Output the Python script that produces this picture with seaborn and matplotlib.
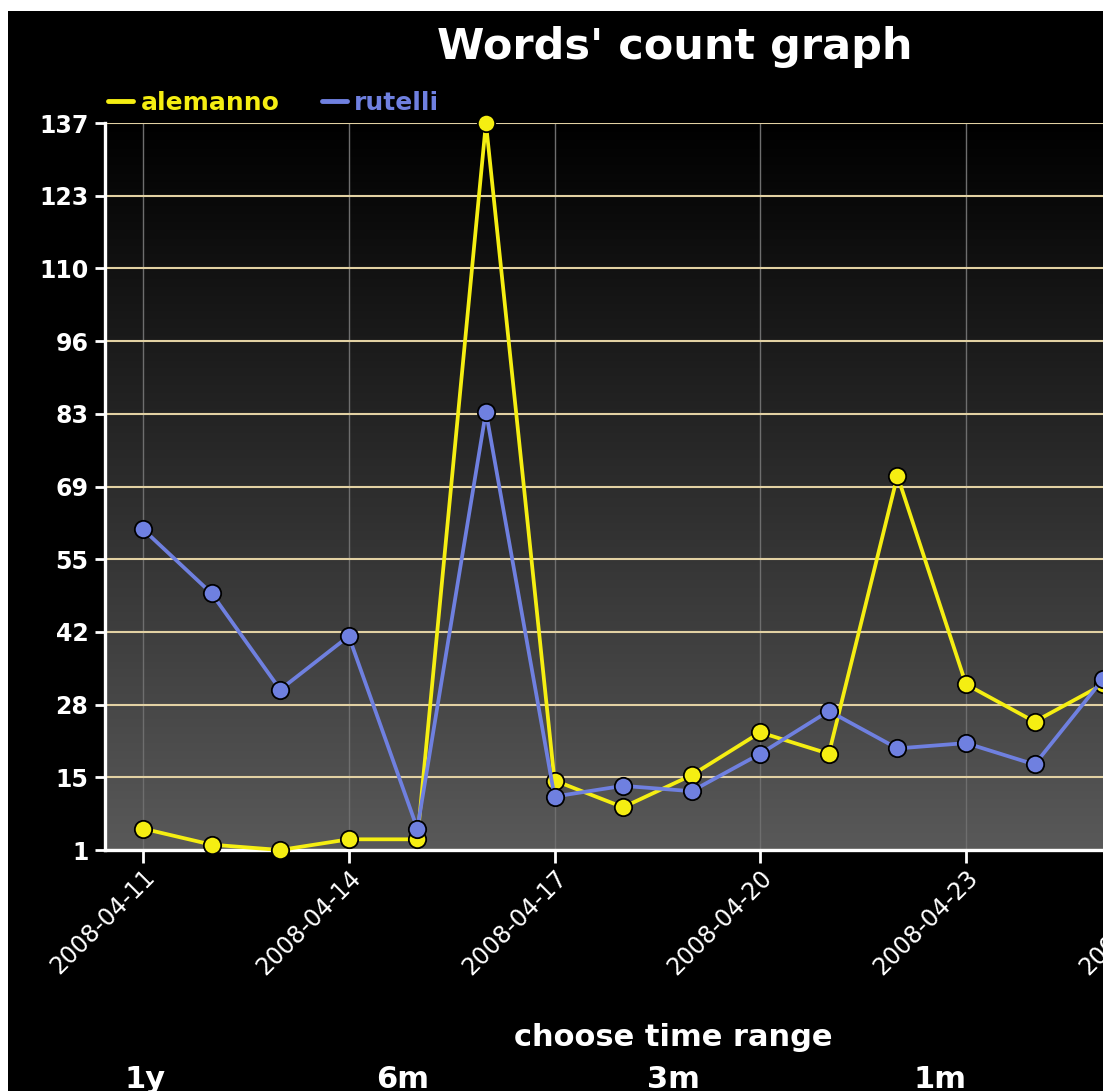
import numpy as np
import pandas as pd
import matplotlib
matplotlib.use('Agg')
import matplotlib.pyplot as plt
from matplotlib.lines import Line2D
from matplotlib.patches import Rectangle
from matplotlib.colors import LinearSegmentedColormap
import seaborn as sns

# data
dates = ['2008-04-11', '2008-04-12', '2008-04-13', '2008-04-14', '2008-04-15',
         '2008-04-16', '2008-04-17', '2008-04-18', '2008-04-19', '2008-04-20',
         '2008-04-21', '2008-04-22', '2008-04-23', '2008-04-24', '2008-04-25']
alemanno = [5, 2, 1, 3, 3, 137, 14, 9, 15, 23, 19, 71, 32, 25, 32]
rutelli = [61, 49, 31, 41, 5, 83, 11, 13, 12, 19, 27, 20, 21, 17, 33]
names = ['alemanno', 'rutelli']
y_labels = ['1', '15', '28', '42', '55', '69', '83', '96', '110', '123', '137']
x_tick_dates = ['2008-04-11', '2008-04-14', '2008-04-17', '2008-04-20', '2008-04-23', '2008-04-26']
range_labels = ['1y', '6m', '3m', '1m']

df = pd.DataFrame({
    'date': pd.to_datetime(dates + dates),
    'count': alemanno + rutelli,
    'name': [names[0]] * len(dates) + [names[1]] * len(dates),
})
palette = {'alemanno': '#f5ee12', 'rutelli': '#6f80e0'}

sns.set_style('dark')
plt.rcParams['font.family'] = ['DejaVu Sans']

W, H = 1103, 1091
fig = plt.figure(figsize=(W / 100, H / 100), dpi=100, facecolor='white')
fig.add_artist(Rectangle((8 / W, 0), 1, 1 - 11 / H, transform=fig.transFigure,
                         facecolor='black', edgecolor='none', zorder=-10))

ax = fig.add_axes([105 / W, 1 - 850 / H, 1075 / W, 727 / H])
ax.set_facecolor('black')

sns.lineplot(data=df, x='date', y='count', hue='name', hue_order=names, palette=palette,
             marker='o', markersize=12.5, markeredgecolor='black', markeredgewidth=1.3,
             linewidth=2.7, legend=False, ax=ax, clip_on=False, zorder=3)

# dark-to-grey background gradient
grad = np.linspace(0, 1, 256).reshape(-1, 1)
bg = LinearSegmentedColormap.from_list('bg', ['#595959', '#000000'])
ax.imshow(grad, extent=[0, 1, 0, 1], transform=ax.transAxes, cmap=bg,
          aspect='auto', origin='lower', zorder=0)

start = pd.Timestamp('2008-04-11')
ax.set_xlim(start - pd.Timedelta(hours=13.3), start + pd.Timedelta(hours=24 * 15.12))
ax.set_ylim(1, 137)

ax.set_yticks(np.linspace(1, 137, len(y_labels)))
ax.set_yticklabels(y_labels, color='white', fontsize=17, fontweight='bold')
ax.set_xticks(pd.to_datetime(x_tick_dates))
ax.set_xticklabels(x_tick_dates, color='white', fontsize=17, rotation=45,
                   ha='right', rotation_mode='anchor')
ax.tick_params(axis='y', left=True, length=7, width=2, color='white', pad=5)
ax.tick_params(axis='x', bottom=True, length=9, width=2, color='white', pad=2)

ax.grid(False)
ax.yaxis.grid(True, color='#e2d1a3', linewidth=1.5)
ax.xaxis.grid(True, color='#6e6e6e', linewidth=1)
ax.set_axisbelow(True)

for side in ['top', 'right']:
    ax.spines[side].set_visible(False)
for side in ['left', 'bottom']:
    ax.spines[side].set_color('white')
    ax.spines[side].set_linewidth(2.4)
ax.set_xlabel('')
ax.set_ylabel('')

handles = [Line2D([], [], color=palette[n], lw=3.5) for n in names]
leg = ax.legend(handles, names, loc='center left', bbox_to_anchor=(108 / W, 1 - 103 / H),
                bbox_transform=fig.transFigure, ncol=2, frameon=False, handlelength=1.0,
                handletextpad=0.3, columnspacing=1.7, fontsize=18, borderpad=0, borderaxespad=0)
for t, n in zip(leg.get_texts(), names):
    t.set_color(palette[n])
    t.set_fontweight('bold')

fig.text(675 / W, 1 - 47 / H, "Words' count graph", ha='center', va='center',
         color='white', fontsize=31, fontweight='bold')
fig.text(673 / W, 1 - 1037 / H, 'choose time range', ha='center', va='center',
         color='white', fontsize=22, fontweight='bold')
for label, xp in zip(range_labels, [145, 403, 673, 940]):
    fig.text(xp / W, 1 - 1080 / H, label, ha='center', va='center',
             color='white', fontsize=22, fontweight='bold')

fig.savefig('out.png', dpi=100, facecolor=fig.get_facecolor())
